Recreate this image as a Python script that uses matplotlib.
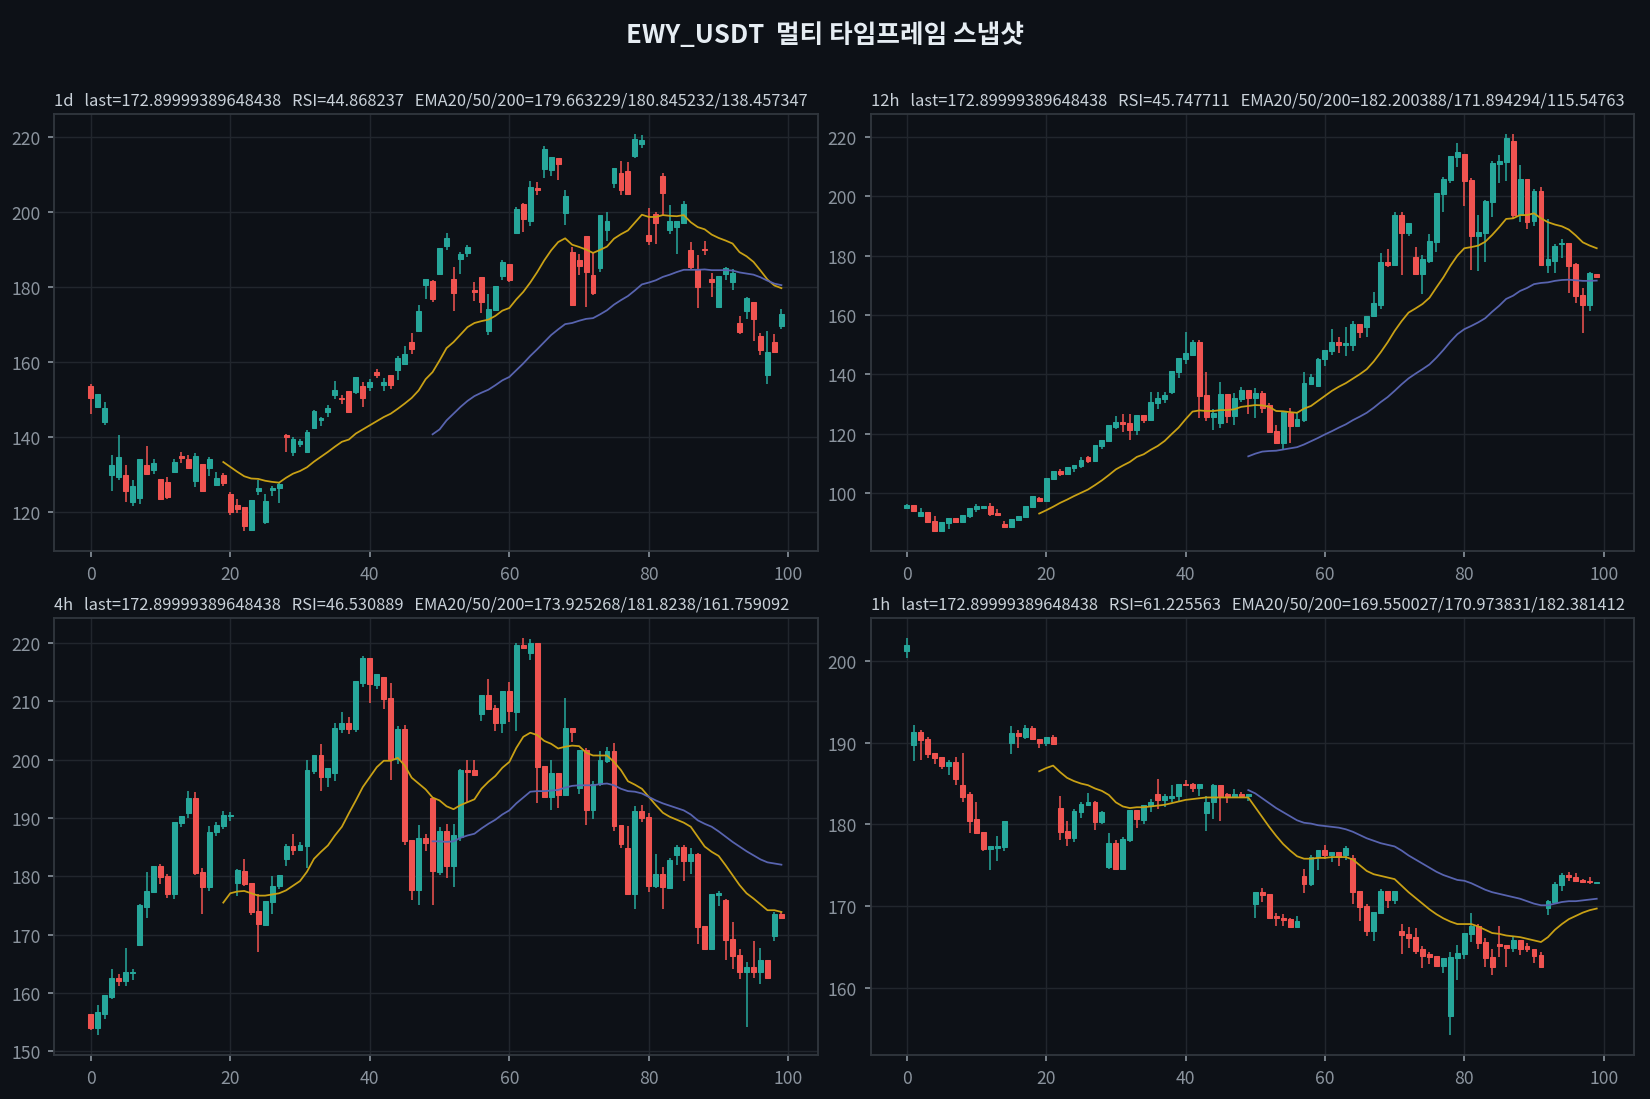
import numpy as np
import matplotlib
matplotlib.use("Agg")
import matplotlib.pyplot as plt

plt.rcParams['font.family'] = ['Noto Sans CJK KR', 'DejaVu Sans']

symbol = "EWY_USDT"
timeframes = ["1d", "12h", "4h", "1h"]
last_price = 172.89999389648438
rsi_values = [44.868237, 45.747711, 46.530889, 61.225563]
ema_last = [(179.663229, 180.845232, 138.457347),
            (182.200388, 171.894294, 115.54763),
            (173.925268, 181.8238, 161.759092),
            (169.550027, 170.973831, 182.381412)]

# ---- 1d ----
o_1d = [153.7, 147.9, 143.9, 129.8, 129.3, 129.9, 122.6, 123.6, 132.5, 131.1,
        128.8, 128.0, 130.7, 135.0, 134.1, 128.3, 132.8, 131.7, 127.1, 129.9,
        124.8, 121.9, 121.3, 115.1, 125.6, 117.2, 125.8, 126.3, 140.5, 135.9,
        138.1, 135.9, 142.3, 144.5, 146.6, 151.1, 150.5, 152.3, 151.9, 153.6,
        153.2, 157.3, 153.8, 156.5, 157.9, 159.5, 165.3, 168.3, 180.5, 181.6,
        183.6, 190.9, 182.1, 187.5, 189.1, 179.2, 182.7, 168.3, 173.9, 182.9,
        186.1, 194.4, 202.1, 197.6, 206.4, 211.5, 211.2, 214.4, 199.7, 189.3,
        187.2, 193.6, 183.2, 185.1, 195.2, 207.7, 210.4, 210.9, 214.9, 218.1,
        193.8, 199.5, 209.6, 195.2, 196.0, 197.1, 189.9, 184.8, 190.1, 182.1,
        174.7, 183.5, 181.3, 170.4, 173.6, 176.0, 166.9, 156.5, 165.3, 169.6]
h_1d = [154.1, 151.5, 149.4, 135.3, 140.6, 132.4, 128.4, 134.1, 137.7, 134.0,
        128.8, 129.4, 134.0, 136.1, 135.3, 135.6, 132.8, 134.7, 130.7, 130.4,
        125.3, 123.3, 121.3, 123.2, 128.5, 124.8, 126.8, 128.0, 140.8, 140.0,
        139.5, 141.9, 147.3, 145.3, 148.5, 155.0, 151.1, 152.3, 156.0, 154.7,
        155.5, 158.1, 155.7, 156.5, 161.6, 164.2, 167.8, 175.2, 182.1, 181.9,
        190.4, 194.4, 185.3, 189.3, 191.2, 181.3, 182.7, 178.1, 180.3, 187.2,
        186.1, 201.3, 202.4, 208.3, 208.0, 217.6, 214.7, 214.4, 206.0, 190.7,
        188.8, 193.6, 189.3, 199.2, 200.0, 211.7, 213.6, 213.3, 220.8, 220.5,
        201.1, 200.0, 210.4, 201.9, 197.6, 202.9, 192.0, 188.6, 192.3, 183.7,
        182.9, 185.3, 184.8, 172.3, 177.3, 176.0, 167.7, 168.3, 167.5, 174.1]
l_1d = [146.2, 147.9, 143.3, 125.5, 128.4, 122.6, 121.5, 122.0, 129.8, 130.2,
        123.1, 123.4, 130.7, 133.1, 131.7, 126.6, 125.2, 129.5, 127.1, 126.8,
        119.1, 119.6, 114.8, 114.8, 124.4, 116.7, 124.2, 122.3, 135.9, 134.8,
        137.2, 135.9, 142.0, 142.9, 145.3, 150.0, 148.7, 146.3, 151.4, 147.9,
        152.2, 155.7, 152.2, 152.7, 155.1, 159.5, 162.0, 168.3, 176.7, 175.9,
        183.4, 189.9, 173.5, 183.6, 188.0, 176.4, 173.0, 167.1, 173.6, 181.8,
        181.3, 194.1, 194.7, 196.3, 204.5, 209.1, 209.5, 208.5, 196.5, 175.1,
        183.1, 174.8, 178.0, 184.0, 192.3, 206.4, 204.5, 204.8, 214.4, 217.1,
        191.1, 191.6, 199.1, 194.1, 188.8, 196.8, 184.8, 174.4, 188.6, 177.3,
        174.4, 181.9, 179.1, 167.5, 171.5, 165.6, 161.9, 154.1, 162.4, 168.8]
c_1d = [150.3, 151.5, 147.7, 132.5, 134.7, 125.5, 126.9, 134.1, 130.0, 133.1,
        123.4, 123.9, 133.3, 134.3, 131.7, 134.9, 125.5, 134.1, 129.1, 127.6,
        119.9, 120.8, 116.3, 123.2, 126.4, 122.9, 126.3, 127.5, 139.9, 139.5,
        138.9, 141.3, 146.9, 145.1, 147.7, 152.4, 150.0, 146.6, 156.0, 150.3,
        154.7, 156.5, 154.6, 153.9, 161.1, 162.0, 163.4, 173.6, 182.1, 176.7,
        190.4, 193.1, 178.4, 188.8, 190.7, 178.7, 176.0, 174.1, 180.3, 186.7,
        181.9, 200.8, 198.1, 206.7, 205.9, 216.8, 214.7, 212.8, 204.3, 175.1,
        185.6, 183.9, 178.3, 199.2, 197.6, 211.7, 205.9, 204.8, 219.5, 219.2,
        192.3, 197.1, 205.1, 197.6, 197.6, 202.1, 185.3, 180.0, 189.9, 181.3,
        182.9, 185.1, 183.7, 168.0, 177.1, 171.5, 163.2, 162.7, 162.7, 172.9]
ema20_1d = [133.3, 132.0, 130.7, 129.5, 128.9, 128.8, 128.3, 128.0, 127.8, 129.1,
            130.2, 130.9, 131.9, 133.4, 134.7, 136.0, 137.4, 138.7, 139.3, 140.9,
            142.0, 143.1, 144.2, 145.3, 146.2, 147.5, 148.9, 150.4, 152.4, 155.4,
            157.3, 160.4, 163.7, 165.3, 167.3, 169.3, 170.4, 170.9, 171.3, 172.3,
            173.7, 174.4, 176.7, 178.7, 181.2, 184.0, 187.1, 189.8, 192.0, 193.0,
            191.3, 190.7, 190.0, 189.1, 189.9, 190.8, 192.9, 194.1, 195.1, 197.2,
            199.3, 198.7, 198.7, 199.2, 199.0, 198.9, 199.2, 197.3, 196.0, 195.4,
            194.0, 193.1, 192.4, 191.6, 189.3, 188.2, 186.7, 184.4, 182.0, 180.4,
            179.7]
ema50_1d = [140.7, 142.0, 144.4, 146.2, 148.0, 149.6, 150.9, 151.8, 152.6, 153.8,
            155.1, 156.0, 157.8, 159.6, 161.6, 163.4, 165.3, 167.2, 168.7, 170.1,
            170.4, 171.0, 171.5, 171.7, 172.7, 173.8, 175.3, 176.5, 177.6, 179.1,
            180.7, 181.2, 181.8, 182.7, 183.3, 184.0, 184.6, 184.6, 184.6, 184.7,
            184.5, 184.5, 184.5, 184.4, 183.9, 183.6, 183.3, 182.6, 181.7, 180.9,
            180.5]

# ---- 12h ----
o_12h = [94.8, 95.9, 92.1, 93.6, 90.5, 87.2, 89.9, 91.5, 90.2, 92.2,
         94.7, 94.8, 95.6, 93.3, 89.5, 88.5, 90.9, 91.8, 95.2, 98.3,
         97.2, 104.6, 107.4, 106.3, 108.3, 109.0, 112.0, 110.7, 115.9, 117.5,
         122.3, 124.0, 123.7, 121.2, 126.4, 124.6, 130.4, 131.8, 134.0, 140.9,
         145.3, 146.5, 151.0, 133.0, 125.7, 123.7, 133.5, 125.9, 131.8, 134.8,
         132.1, 133.7, 129.7, 121.0, 116.8, 127.0, 122.5, 124.6, 136.8, 136.1,
         145.0, 148.0, 151.0, 149.7, 150.0, 157.1, 156.1, 159.5, 163.4, 177.7,
         177.0, 193.6, 187.5, 179.4, 173.9, 178.3, 184.5, 200.7, 205.5, 213.2,
         214.3, 205.5, 186.5, 187.5, 198.0, 210.9, 211.5, 218.6, 193.6, 205.8,
         191.6, 201.7, 177.0, 178.3, 183.8, 184.2, 177.1, 166.8, 163.4, 173.9]
h_12h = [96.1, 95.9, 95.0, 93.6, 92.3, 90.2, 91.5, 91.5, 92.6, 95.0,
         96.1, 95.6, 96.7, 94.4, 90.6, 91.2, 92.2, 95.6, 99.0, 98.6,
         105.1, 107.4, 108.1, 108.8, 109.5, 112.0, 112.3, 116.2, 117.9, 122.8,
         125.8, 126.5, 126.7, 126.4, 126.4, 134.1, 134.1, 134.1, 141.1, 145.6,
         154.1, 151.6, 151.6, 140.6, 128.4, 137.5, 133.5, 133.8, 135.8, 134.8,
         135.5, 134.4, 130.4, 123.0, 127.4, 128.7, 127.0, 140.9, 140.2, 145.6,
         148.3, 155.1, 152.7, 156.1, 158.1, 157.1, 159.8, 167.9, 180.8, 182.1,
         194.6, 194.6, 190.9, 182.8, 180.1, 187.2, 201.1, 206.5, 213.6, 218.0,
         214.3, 206.1, 193.6, 198.7, 211.9, 213.9, 221.0, 221.0, 210.5, 205.8,
         202.4, 203.1, 192.3, 183.8, 185.5, 184.2, 177.6, 169.1, 174.4, 173.9]
l_12h = [94.5, 93.5, 91.8, 89.7, 87.1, 87.0, 87.7, 90.2, 90.2, 91.5,
         93.5, 94.8, 92.3, 92.1, 88.5, 88.1, 90.9, 91.8, 94.8, 96.8,
         96.9, 104.3, 105.6, 106.3, 107.0, 108.3, 110.0, 110.4, 114.8, 117.5,
         121.5, 120.5, 117.8, 119.5, 123.7, 124.2, 128.4, 130.4, 133.4, 138.9,
         143.5, 146.5, 125.2, 124.3, 121.2, 122.0, 123.5, 123.0, 130.8, 126.6,
         125.2, 127.0, 120.5, 116.8, 114.8, 116.8, 122.2, 123.9, 136.5, 135.7,
         142.9, 146.6, 147.3, 146.3, 148.0, 152.3, 152.6, 159.2, 162.1, 176.3,
         176.6, 173.6, 186.8, 173.6, 167.2, 177.6, 181.4, 194.6, 204.5, 209.9,
         196.7, 175.3, 174.9, 178.0, 193.0, 204.5, 205.1, 192.6, 191.3, 188.9,
         189.9, 177.0, 174.3, 174.3, 179.3, 167.5, 164.2, 154.0, 161.5, 172.6]
c_12h = [95.9, 93.8, 93.6, 90.1, 87.2, 90.2, 91.5, 90.2, 92.6, 95.0,
         95.4, 95.6, 92.8, 92.5, 88.5, 91.2, 92.2, 95.6, 99.0, 97.3,
         105.1, 107.4, 106.3, 108.8, 109.5, 111.2, 110.6, 116.2, 117.9, 122.8,
         124.0, 123.2, 121.2, 126.4, 124.7, 130.6, 132.0, 133.0, 141.1, 145.6,
         147.0, 151.0, 132.8, 125.7, 127.0, 133.5, 125.9, 132.1, 134.8, 132.0,
         133.8, 128.7, 120.5, 116.8, 127.4, 122.5, 125.0, 137.2, 139.2, 145.3,
         148.3, 151.0, 149.7, 150.4, 157.1, 154.4, 159.8, 163.9, 177.7, 177.0,
         193.6, 187.5, 190.9, 173.9, 178.8, 184.8, 201.1, 205.8, 213.6, 214.9,
         205.1, 186.5, 187.9, 198.4, 211.2, 211.9, 219.7, 193.6, 205.8, 191.3,
         201.7, 177.0, 178.8, 183.2, 184.2, 176.6, 166.5, 163.4, 174.0, 172.9]
ema20_12h = [93.0, 94.1, 95.3, 96.6, 97.7, 98.9, 100.0, 101.1, 102.6, 104.2,
             106.0, 107.9, 109.2, 110.4, 112.1, 113.0, 114.5, 115.8, 117.5, 119.8,
             122.0, 124.8, 127.4, 127.8, 127.6, 127.6, 127.9, 127.9, 128.2, 129.0,
             129.3, 129.6, 129.5, 129.0, 127.6, 127.5, 127.2, 127.0, 128.4, 129.3,
             131.0, 132.7, 134.4, 135.8, 137.0, 138.5, 140.0, 141.7, 144.3, 147.4,
             150.8, 154.6, 157.9, 160.8, 162.2, 163.7, 165.8, 169.3, 172.7, 176.6,
             180.0, 182.5, 182.9, 183.4, 184.7, 187.0, 189.6, 192.4, 192.6, 193.7,
             193.7, 194.3, 192.6, 191.3, 190.5, 189.9, 188.8, 186.8, 184.5, 183.4,
             182.5]
ema50_12h = [112.3, 113.2, 113.9, 114.1, 114.2, 114.6, 115.0, 115.4, 116.3, 117.4,
             118.5, 119.7, 120.8, 122.0, 123.1, 124.5, 125.7, 127.0, 128.7, 130.6,
             132.3, 134.4, 136.6, 138.6, 140.2, 141.7, 143.3, 145.6, 148.2, 151.0,
             153.5, 155.2, 156.3, 157.5, 158.9, 161.1, 163.1, 165.4, 166.5, 168.1,
             169.1, 170.4, 170.8, 171.0, 171.5, 171.8, 171.9, 171.7, 171.5, 171.5,
             171.6]

# ---- 4h ----
o_4h = [156.5, 154.1, 156.4, 159.3, 162.6, 162.0, 163.4, 168.2, 174.7, 177.3,
        181.8, 180.1, 177.0, 189.1, 190.8, 193.4, 180.8, 178.2, 187.6, 188.6,
        190.4, 178.9, 180.9, 178.9, 174.1, 171.7, 175.6, 178.4, 183.0, 185.2,
        184.5, 185.2, 198.1, 200.8, 197.0, 197.7, 205.2, 206.3, 205.2, 213.1,
        217.4, 212.8, 214.1, 210.5, 200.1, 205.2, 186.2, 177.6, 186.6, 193.4,
        180.8, 187.8, 181.8, 186.8, 198.2, 198.2, 207.8, 211.0, 208.8, 206.3,
        211.7, 208.1, 219.6, 218.2, 219.9, 198.9, 193.6, 197.7, 193.9, 205.4,
        195.1, 201.6, 191.4, 195.8, 199.8, 201.5, 188.8, 184.8, 177.0, 191.2,
        190.2, 178.4, 180.4, 178.0, 183.7, 185.1, 182.7, 183.9, 171.5, 167.5,
        176.8, 176.0, 169.3, 166.5, 163.7, 164.4, 163.7, 165.7, 169.8, 173.6]
h_4h = [156.5, 157.9, 159.6, 164.2, 163.2, 167.8, 164.1, 175.3, 180.7, 181.8,
        182.2, 180.4, 189.3, 190.4, 194.7, 194.5, 181.5, 188.6, 189.3, 191.2,
        191.0, 181.3, 182.9, 178.9, 177.0, 175.8, 180.1, 180.3, 185.6, 187.3,
        185.9, 199.9, 200.8, 202.6, 198.6, 206.3, 208.1, 207.3, 213.4, 217.7,
        217.4, 214.6, 214.1, 213.1, 205.7, 205.9, 186.2, 188.8, 187.3, 193.4,
        188.5, 189.0, 189.0, 198.4, 199.9, 199.9, 211.0, 213.8, 209.3, 211.7,
        213.3, 219.9, 220.8, 220.6, 219.9, 198.9, 199.9, 197.7, 210.5, 205.4,
        201.6, 202.0, 196.3, 201.5, 202.2, 202.8, 188.8, 188.6, 192.1, 192.2,
        190.9, 183.9, 181.6, 183.2, 185.4, 185.4, 184.9, 184.0, 171.5, 177.0,
        177.5, 176.2, 172.2, 167.5, 165.3, 169.0, 167.7, 165.7, 173.9, 173.9]
l_4h = [153.7, 152.8, 155.6, 159.0, 161.2, 161.2, 162.2, 168.2, 172.9, 177.1,
        178.7, 176.3, 176.1, 188.4, 190.0, 180.2, 173.5, 177.5, 186.9, 188.1,
        189.4, 176.7, 178.3, 173.4, 167.0, 171.5, 173.6, 177.9, 181.8, 183.7,
        184.4, 181.5, 197.5, 194.6, 195.3, 196.3, 204.5, 204.4, 204.7, 212.4,
        209.7, 212.1, 208.7, 196.5, 199.3, 185.4, 175.9, 175.1, 184.4, 175.1,
        180.3, 179.7, 178.2, 186.1, 192.7, 197.4, 206.6, 208.5, 204.9, 204.5,
        206.4, 204.9, 218.9, 217.0, 192.5, 193.4, 191.4, 191.7, 193.8, 203.0,
        194.1, 188.8, 189.8, 195.5, 199.4, 187.8, 184.9, 176.8, 174.4, 189.3,
        177.4, 178.0, 174.4, 177.9, 182.0, 179.2, 180.4, 168.4, 167.4, 167.4,
        175.0, 165.7, 164.1, 162.4, 154.2, 162.6, 161.6, 162.6, 168.9, 172.7]
c_4h = [154.1, 156.7, 159.6, 162.6, 162.0, 163.7, 163.7, 175.1, 177.5, 181.8,
        179.9, 177.0, 189.3, 190.4, 193.4, 180.5, 178.2, 187.6, 188.8, 190.5,
        190.5, 181.1, 178.7, 173.9, 171.9, 175.8, 178.4, 180.3, 185.2, 184.5,
        185.4, 198.2, 200.8, 197.0, 198.6, 205.4, 206.3, 205.2, 213.4, 217.4,
        212.9, 214.6, 210.4, 200.1, 205.2, 186.1, 177.6, 186.6, 185.7, 180.9,
        187.8, 181.8, 187.1, 198.2, 197.9, 197.4, 211.0, 208.7, 206.3, 211.7,
        208.3, 219.6, 219.1, 219.9, 198.7, 193.6, 197.7, 193.9, 205.4, 204.8,
        201.6, 191.4, 195.8, 199.9, 201.5, 188.6, 185.6, 177.0, 191.2, 190.0,
        178.4, 180.4, 178.2, 182.8, 185.1, 182.7, 183.9, 171.4, 167.5, 177.0,
        177.2, 169.1, 166.4, 163.7, 164.4, 163.7, 165.7, 162.6, 173.6, 172.9]
ema20_4h = [175.5, 177.1, 177.4, 177.5, 177.1, 176.7, 176.7, 176.9, 177.1, 177.6,
            178.4, 179.2, 180.8, 183.0, 184.2, 185.3, 187.0, 188.5, 190.8, 193.0,
            195.3, 197.0, 198.7, 199.8, 199.8, 200.3, 199.0, 196.9, 195.9, 194.9,
            193.5, 193.0, 192.0, 191.5, 192.2, 192.7, 193.2, 195.0, 196.2, 197.2,
            198.6, 199.6, 202.0, 203.9, 204.6, 204.2, 203.2, 202.7, 201.9, 202.2,
            202.4, 202.3, 201.2, 200.7, 200.7, 200.7, 199.6, 198.2, 196.3, 195.7,
            195.0, 193.6, 192.2, 190.9, 190.2, 189.7, 189.2, 188.5, 186.8, 185.1,
            184.2, 183.5, 181.9, 180.2, 178.5, 177.1, 176.2, 175.2, 174.2, 174.2,
            173.9]
ema50_4h = [186.0, 186.0, 185.9, 186.0, 186.6, 187.0, 187.3, 188.2, 189.0, 189.7,
            190.6, 191.3, 192.5, 193.5, 194.5, 194.6, 194.6, 194.7, 194.8, 195.2,
            195.5, 195.6, 195.6, 195.6, 195.8, 195.9, 195.6, 195.0, 194.6, 194.5,
            194.2, 193.6, 193.0, 192.5, 192.1, 191.7, 191.3, 190.6, 189.6, 189.0,
            188.5, 187.7, 186.8, 185.9, 185.1, 184.3, 183.6, 182.9, 182.4, 182.2,
            182.0]

# ---- 1h ----
o_1h = [201.2, 189.7, 191.3, 190.5, 188.7, 188.3, 187.1, 187.6, 184.8, 183.7,
        180.6, 179.1, 177.0, 177.1, 177.2, 190.0, 191.2, 190.7, 191.8, 190.5,
        190.0, 190.7, 182.0, 179.2, 178.3, 181.5, 182.4, 182.8, 180.3, 174.8,
        177.7, 174.6, 178.1, 181.8, 180.5, 182.3, 183.7, 183.0, 183.2, 183.5,
        185.0, 184.9, 184.5, 181.4, 182.8, 184.8, 183.7, 183.4, 183.7, 183.5,
        170.3, 171.7, 171.5, 168.8, 168.6, 168.4, 167.5, 173.7, 172.7, 176.0,
        176.9, 176.3, 176.6, 176.2, 175.9, 171.9, 170.0, 167.0, 169.2, 171.9,
        170.8, 166.9, 166.6, 166.2, 164.7, 164.1, 163.9, 162.7, 156.6, 163.6,
        164.1, 166.6, 167.6, 165.6, 163.8, 165.4, 165.2, 164.9, 165.8, 165.1,
        164.7, 164.0, 169.8, 170.5, 172.6, 173.8, 173.6, 173.2, 173.1, 172.85]
h_1h = [202.8, 192.2, 191.5, 190.7, 188.7, 188.3, 187.9, 188.3, 188.7, 184.0,
        182.7, 179.1, 177.3, 178.6, 180.4, 192.0, 191.5, 192.2, 192.0, 190.5,
        190.7, 190.9, 183.5, 180.4, 181.9, 182.8, 183.9, 182.9, 181.7, 178.9,
        178.1, 178.5, 181.8, 181.8, 182.4, 183.1, 185.5, 183.7, 184.8, 185.0,
        185.4, 185.1, 184.9, 183.5, 185.0, 184.8, 183.9, 184.3, 184.0, 183.7,
        171.7, 172.2, 171.5, 169.1, 169.0, 168.5, 168.8, 174.6, 176.2, 176.9,
        177.5, 176.6, 176.6, 177.3, 176.2, 171.9, 170.3, 169.3, 172.1, 171.9,
        171.9, 167.8, 167.5, 167.3, 165.1, 164.4, 163.9, 163.6, 164.4, 165.2,
        166.7, 169.1, 167.8, 166.1, 164.7, 167.6, 165.2, 166.2, 165.8, 165.5,
        164.7, 164.4, 170.8, 173.0, 174.0, 174.2, 174.1, 173.3, 173.6, 172.95]
l_1h = [200.4, 187.7, 187.9, 188.1, 187.4, 186.8, 186.1, 184.8, 182.8, 178.9,
        178.8, 176.8, 174.4, 175.5, 176.8, 188.6, 189.3, 190.5, 190.3, 189.3,
        189.6, 189.7, 178.1, 177.3, 177.9, 180.8, 182.4, 179.3, 180.1, 174.6,
        174.5, 174.4, 177.8, 179.5, 180.0, 181.5, 181.9, 182.1, 182.8, 182.8,
        184.8, 184.0, 183.5, 179.2, 180.6, 180.4, 182.6, 183.2, 183.2, 182.9,
        168.5, 170.5, 168.4, 167.6, 167.6, 167.4, 167.4, 171.6, 172.4, 174.4,
        175.8, 175.4, 174.9, 175.7, 170.3, 168.2, 166.3, 165.7, 169.1, 169.8,
        170.3, 164.1, 164.9, 164.1, 162.4, 162.9, 162.5, 161.8, 154.2, 160.9,
        163.5, 165.6, 164.7, 162.6, 161.6, 163.8, 162.6, 164.4, 164.0, 164.4,
        163.0, 162.5, 168.9, 170.3, 171.9, 173.1, 173.0, 172.9, 172.7, 172.8]
c_1h = [202.0, 191.3, 190.3, 188.6, 188.1, 187.2, 187.6, 185.5, 183.4, 180.4,
        178.9, 177.0, 177.3, 177.3, 180.4, 191.2, 190.8, 191.8, 190.5, 190.0,
        190.7, 189.8, 179.1, 178.3, 181.7, 182.5, 182.8, 180.3, 181.5, 177.7,
        174.6, 178.2, 181.8, 180.6, 182.4, 182.8, 183.0, 183.5, 183.5, 185.0,
        184.8, 184.5, 184.9, 182.8, 184.8, 183.5, 183.4, 183.7, 183.5, 183.7,
        171.7, 171.4, 168.5, 168.5, 168.3, 167.5, 168.2, 172.7, 176.0, 176.9,
        176.3, 176.6, 176.0, 177.1, 171.7, 169.9, 167.0, 169.3, 171.9, 170.8,
        171.9, 166.5, 166.1, 164.5, 163.9, 163.8, 162.7, 163.6, 163.8, 164.2,
        166.7, 167.6, 165.5, 163.6, 162.6, 165.1, 164.9, 165.8, 164.7, 164.7,
        163.9, 162.6, 170.6, 172.7, 173.8, 173.5, 173.1, 173.0, 172.9, 172.9]
ema20_1h = [186.5, 186.9, 187.2, 186.4, 185.7, 185.3, 185.0, 184.8, 184.4, 184.1,
            183.6, 182.7, 182.2, 182.0, 182.1, 182.1, 182.2, 182.3, 182.4, 182.6,
            182.8, 183.0, 183.1, 183.2, 183.3, 183.3, 183.3, 183.3, 183.3, 183.3,
            183.3, 182.1, 180.9, 179.7, 178.6, 177.6, 176.8, 176.1, 175.8, 175.8,
            175.9, 175.9, 176.0, 176.0, 176.0, 175.7, 175.0, 174.3, 173.9, 173.7,
            173.5, 173.3, 172.5, 171.7, 171.0, 170.3, 169.6, 169.0, 168.5, 168.1,
            167.8, 167.8, 167.8, 167.5, 167.1, 166.7, 166.6, 166.4, 166.3, 166.2,
            166.0, 165.8, 165.6, 166.2, 167.1, 167.8, 168.4, 168.8, 169.2, 169.5,
            169.7]
ema50_1h = [184.2, 183.8, 183.2, 182.6, 182.0, 181.5, 181.0, 180.5, 180.2, 180.1,
            179.9, 179.8, 179.7, 179.6, 179.4, 179.1, 178.7, 178.3, 178.0, 177.7,
            177.5, 177.3, 176.8, 176.2, 175.7, 175.2, 174.7, 174.2, 173.8, 173.5,
            173.2, 173.1, 172.8, 172.4, 172.0, 171.7, 171.5, 171.3, 171.1, 170.9,
            170.6, 170.3, 170.1, 170.1, 170.3, 170.5, 170.6, 170.6, 170.7, 170.8,
            170.9]

panels = [
    (o_1d, h_1d, l_1d, c_1d, ema20_1d, ema50_1d),
    (o_12h, h_12h, l_12h, c_12h, ema20_12h, ema50_12h),
    (o_4h, h_4h, l_4h, c_4h, ema20_4h, ema50_4h),
    (o_1h, h_1h, l_1h, c_1h, ema20_1h, ema50_1h),
]

bg = '#0d1117'
up_col = '#26a69a'
down_col = '#ef5350'

fig = plt.figure(figsize=(11, 7.3333), dpi=150, facecolor=bg)
rects = [[0.0330, 0.4980, 0.4630, 0.3972],
         [0.5276, 0.4980, 0.4625, 0.3972],
         [0.0330, 0.0400, 0.4630, 0.3970],
         [0.5276, 0.0400, 0.4625, 0.3970]]

for k, (o, h, l, c, e20, e50) in enumerate(panels):
    ax = fig.add_axes(rects[k])
    ax.set_facecolor(bg)
    o, h, l, c = map(np.asarray, (o, h, l, c))
    x = np.arange(len(o))
    up = c >= o
    cols = np.where(up, up_col, down_col)
    span = h.max() - l.min()

    # wicks and bodies
    ax.vlines(x, l, h, colors=cols, linewidth=0.75, zorder=2)
    body = np.maximum(np.abs(c - o), span * 0.002)
    ax.bar(x, body, bottom=np.minimum(o, c), width=0.7, color=cols,
           edgecolor=cols, linewidth=0.5, zorder=3)

    ax.plot(np.arange(len(o) - len(e20), len(o)), e20, color='#c9a115', lw=0.85, zorder=4)
    ax.plot(np.arange(len(o) - len(e50), len(o)), e50, color='#5864b0', lw=0.85, zorder=4)

    ax.set_xlim(-5.2, 104.3)
    ax.set_ylim(l.min() - 0.05 * span, h.max() + 0.05 * span)
    ax.set_xticks([0, 20, 40, 60, 80, 100])
    ax.grid(True, color='#21262d', linewidth=0.7)
    ax.set_axisbelow(True)
    for s in ax.spines.values():
        s.set_color('#30363d')
        s.set_linewidth(0.9)
    ax.tick_params(colors='#8b949e', labelsize=8.5, length=3, width=0.8)

    e = ema_last[k]
    title = (f"{timeframes[k]}   last={last_price}   RSI={rsi_values[k]}   "
             f"EMA20/50/200={e[0]}/{e[1]}/{e[2]}")
    ax.set_title(title, loc='left', fontsize=7.9, color='#c9d1d9', pad=4.5)

fig.suptitle(f"{symbol}  멀티 타임프레임 스냅샷", color='#e6edf3',
             fontsize=12.3, fontweight='bold', y=0.98)

fig.savefig('out.png', dpi=150, facecolor=bg)
